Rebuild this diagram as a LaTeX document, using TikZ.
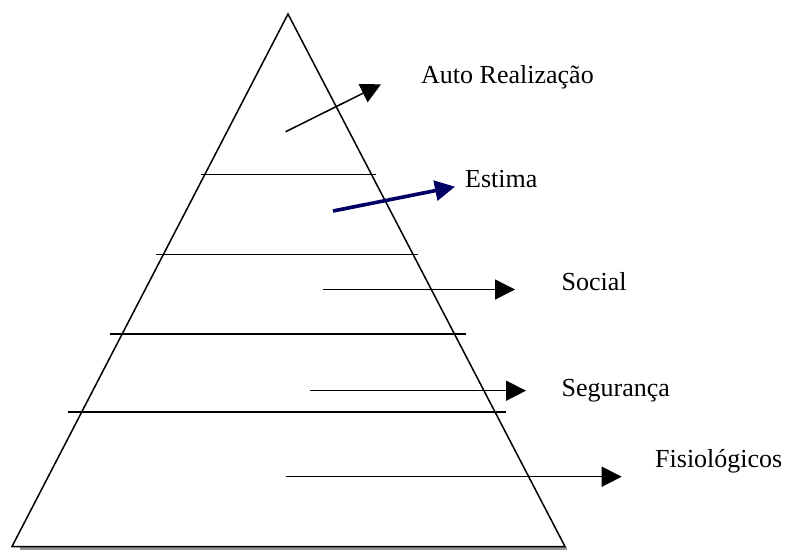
\documentclass[tikz,border=0pt]{standalone}
\usepackage{fontspec}
\setmainfont{Liberation Serif}
\usetikzlibrary{arrows.meta}
\definecolor{navyarrow}{RGB}{0,0,100}
\definecolor{shadowgray}{RGB}{150,150,150}
\tikzset{
  edge/.style={line width=1.5pt, black},
  levelline/.style={line width=1.5pt, black},
  pointer/.style={line width=1.5pt, black, -{Triangle[length=20pt,width=20pt]}},
  boldpointer/.style={line width=3.6pt, navyarrow, -{Triangle[length=20pt,width=20pt]}},
  label/.style={anchor=base west, inner sep=0pt, font=\fontsize{26}{30}\selectfont}
}
\begin{document}
\begin{tikzpicture}[x=1pt,y=-1pt]
\useasboundingbox (0,0) rectangle (786,550);
% shadow
\fill[shadowgray] (20,546.5) rectangle (567,550);
% triangle
\coordinate (apex) at (288,14);
\coordinate (bl) at (12,546.5);
\coordinate (br) at (565,546.5);
\draw[edge, fill=white, line join=miter] (apex) -- (br) -- (bl) -- cycle;
% level lines
\coordinate (l1a) at (200.5,174.3); \coordinate (l1b) at (375.5,174.3);
\coordinate (l2a) at (156,254.5);   \coordinate (l2b) at (418,254.5);
\coordinate (l3a) at (110,334);     \coordinate (l3b) at (466,334);
\coordinate (l4a) at (68,412);      \coordinate (l4b) at (506,412);
\draw[levelline] (l1a) -- (l1b);
\draw[levelline] (l2a) -- (l2b);
\draw[levelline] (l3a) -- (l3b);
\draw[levelline] (l4a) -- (l4b);
% arrows
\coordinate (a1s) at (285.7,131.7); \coordinate (a1e) at (381,84.3);
\coordinate (a2s) at (333,211);     \coordinate (a2e) at (455,186.7);
\coordinate (a3s) at (322.7,289.5); \coordinate (a3e) at (515,289.5);
\coordinate (a4s) at (310,390.7);   \coordinate (a4e) at (526,390.7);
\coordinate (a5s) at (285.7,476.7); \coordinate (a5e) at (621.7,476.7);
\draw[pointer] (a1s) -- (a1e);
\draw[boldpointer] (a2s) -- (a2e);
\draw[pointer] (a3s) -- (a3e);
\draw[pointer] (a4s) -- (a4e);
\draw[pointer] (a5s) -- (a5e);
% labels
\node[label] (t1) at (421,83.3) {Auto Realização};
\node[label] (t2) at (465,187.7) {Estima};
\node[label] (t3) at (561.5,290.7) {Social};
\node[label] (t4) at (561.5,396.5) {Segurança};
\node[label] (t5) at (655,467.3) {Fisiológicos};
\end{tikzpicture}
\end{document}
